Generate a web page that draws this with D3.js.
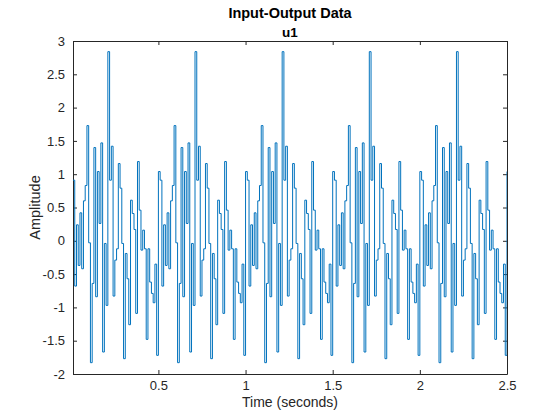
<!DOCTYPE html>
<html>
<head>
<meta charset="utf-8">
<script src="https://cdn.jsdelivr.net/npm/d3@7"></script>
<style>
  body { margin: 0; background: #fff; }
  svg { font-family: "Liberation Sans", Arial, sans-serif; }
  .tick text { fill: #262626; font-size: 13px; }
  .tick line, .domain { stroke: #262626; }
</style>
</head>
<body>
<div id="chart"></div>
<script>
const width = 560;
const height = 420;
const margin = { top: 41, right: 53, bottom: 46, left: 73 };

// one period of the input u1 (50 samples)
const periodValues = [
  0.91, -0.68, 0.24, -0.37, 0.42, -0.42, 0.6, 0.83, 1.73, -0.03,
  -1.83, -0.64, 1.4, -0.84, 1.04, 0.26, 1.47, -1.67, -0.04, -0.97,
  2.84, 0.91, 1.42, -0.83, -0.29, -0.12, 1.16, 0.79, -0.04, -1.77,
  -0.19, -0.57, -1.26, 0.61, 0.41, 0.17, -1.09, 1.19, 0.46, -0.14,
  0.16, -0.12, -1.48, -0.12, -0.62, -0.79, -0.93, -0.35, -1.72, 1.04
];
const numPeriods = 5;
const sampleTime = 0.01;

const xTicks = [0.5, 1, 1.5, 2, 2.5];
const yTicks = [-2, -1.5, -1, -0.5, 0, 0.5, 1, 1.5, 2, 2.5, 3];

// periodic input: repeat the period, samples at Ts, 2Ts, ...
const samples = [];
for (let p = 0; p < numPeriods; p++) {
  periodValues.forEach((v, i) => {
    samples.push({ t: (p * periodValues.length + i + 1) * sampleTime, u: v });
  });
}

const innerW = width - margin.left - margin.right;
const innerH = height - margin.top - margin.bottom;

const x = d3.scaleLinear()
  .domain([sampleTime, samples[samples.length - 1].t])
  .range([0, innerW]);
const y = d3.scaleLinear().domain([-2, 3]).range([innerH, 0]);

const svg = d3.select("#chart")
  .append("svg")
  .attr("width", width)
  .attr("height", height);

const g = svg.append("g")
  .attr("transform", `translate(${margin.left},${margin.top})`);

g.append("clipPath").attr("id", "clip")
  .append("rect").attr("width", innerW).attr("height", innerH);

const fmt = (d) => String(d);

// bottom / top axes, ticks pointing inward
g.append("g")
  .attr("transform", `translate(0,${innerH})`)
  .call(d3.axisBottom(x).tickValues(xTicks).tickFormat(fmt).tickSizeInner(-4).tickSizeOuter(0).tickPadding(7));
g.append("g")
  .call(d3.axisTop(x).tickValues(xTicks).tickFormat("").tickSizeInner(-4).tickSizeOuter(0));

// left / right axes
g.append("g")
  .call(d3.axisLeft(y).tickValues(yTicks).tickFormat(fmt).tickSizeInner(-4).tickSizeOuter(0).tickPadding(8));
g.append("g")
  .attr("transform", `translate(${innerW},0)`)
  .call(d3.axisRight(y).tickValues(yTicks).tickFormat("").tickSizeInner(-4).tickSizeOuter(0));

g.selectAll(".domain").attr("stroke-width", 1);

const line = d3.line()
  .x((d) => x(d.t))
  .y((d) => y(d.u))
  .curve(d3.curveStepAfter);

g.append("path")
  .datum(samples)
  .attr("clip-path", "url(#clip)")
  .attr("fill", "none")
  .attr("stroke", "#0072BD")
  .attr("stroke-width", 1)
  .attr("d", line);

// titles and labels
svg.append("text")
  .attr("x", margin.left + innerW / 2)
  .attr("y", 18)
  .attr("text-anchor", "middle")
  .attr("font-size", 14.5)
  .attr("font-weight", "bold")
  .attr("fill", "#000")
  .text("Input-Output Data");

svg.append("text")
  .attr("x", margin.left + innerW / 2)
  .attr("y", 37)
  .attr("text-anchor", "middle")
  .attr("font-size", 13.5)
  .attr("font-weight", "bold")
  .attr("fill", "#000")
  .text("u1");

svg.append("text")
  .attr("x", margin.left + innerW / 2)
  .attr("y", 407)
  .attr("text-anchor", "middle")
  .attr("font-size", 14)
  .attr("fill", "#262626")
  .text("Time (seconds)");

svg.append("text")
  .attr("transform", `translate(40,${margin.top + innerH / 2}) rotate(-90)`)
  .attr("text-anchor", "middle")
  .attr("font-size", 14.5)
  .attr("fill", "#262626")
  .text("Amplitude");
</script>
</body>
</html>
